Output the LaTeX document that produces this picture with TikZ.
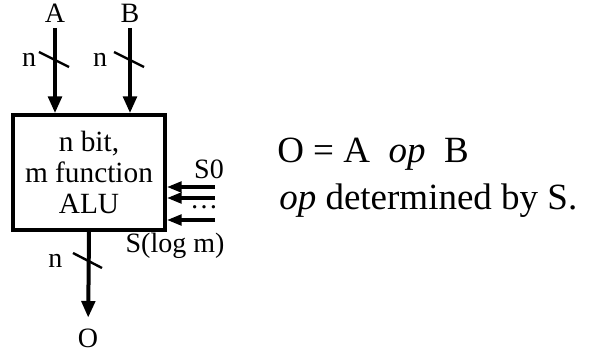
\documentclass[tikz,border=0pt]{standalone}
\usepackage{fontspec}
\setmainfont{Liberation Serif}
\usetikzlibrary{arrows.meta,positioning}

\begin{document}
\begin{tikzpicture}[x=0.75pt, y=-0.75pt,
    every node/.style={font=\fontsize{21}{24}\selectfont, inner sep=0pt},
    bus/.style={line width=3pt, -{Triangle[length=12.5pt,width=10pt]}},
    sel/.style={line width=2.4pt, -{Triangle[length=11pt,width=8pt]}},
    slash/.style={line width=1.8pt}]
    \useasboundingbox (0,0) rectangle (593,353);

    % ALU block
    \node[draw, line width=3pt, minimum width=114pt, minimum height=86pt, align=center,
          font=\fontsize{22}{23.5}\selectfont] (alu) at (89,172.5) {n bit,\\m function\\ALU};

    % inputs
    \node[inner sep=4pt] (A) at (55,13) {A};
    \node[inner sep=4pt] (B) at (130,13) {B};
    \draw[bus] (A) -- (A |- alu.north);
    \draw[bus] (B) -- (B |- alu.north);
    \coordinate (ta) at (55,60);
    \coordinate (tb) at (130,60);
    \draw[slash] (ta) +(-16,-8) -- +(14,7);
    \draw[slash] (tb) +(-16,-8) -- +(14,7);
    \node[left=14pt of ta] (na) {n};
    \node[left=17pt of tb] (nb) {n};

    % output
    \node[inner sep=4pt] (O) at (88,338) {O};
    \draw[bus, shorten >=4pt] (alu.south) -- (O);
    \coordinate (to) at (88,261);
    \draw[slash] (to) +(-15,-8) -- +(14,7);
    \node[left=19pt of to] (no) {n};

    % select lines
    \coordinate (s0) at (215,187);
    \coordinate (s1) at (215,198);
    \coordinate (sk) at (215,220);
    \draw[sel] (s0) -- (s0 -| alu.east);
    \draw[sel] (s1) -- (s1 -| alu.east);
    \draw[sel] (sk) -- (sk -| alu.east);
    \node (S0) at (209,169) {S0};
    \node (dots) at (204,207) {\dots};
    \node (Sm) at (175,246) {S(log m)};

    % description
    \node[anchor=base west, font=\fontsize{27.75}{30}\selectfont] (eq) at (277,162) {O = A~ \textit{op}~ B};
    \node[anchor=base west, font=\fontsize{27.75}{30}\selectfont] (desc) at (279,209) {\textit{op} determined by S.};
\end{tikzpicture}
\end{document}
